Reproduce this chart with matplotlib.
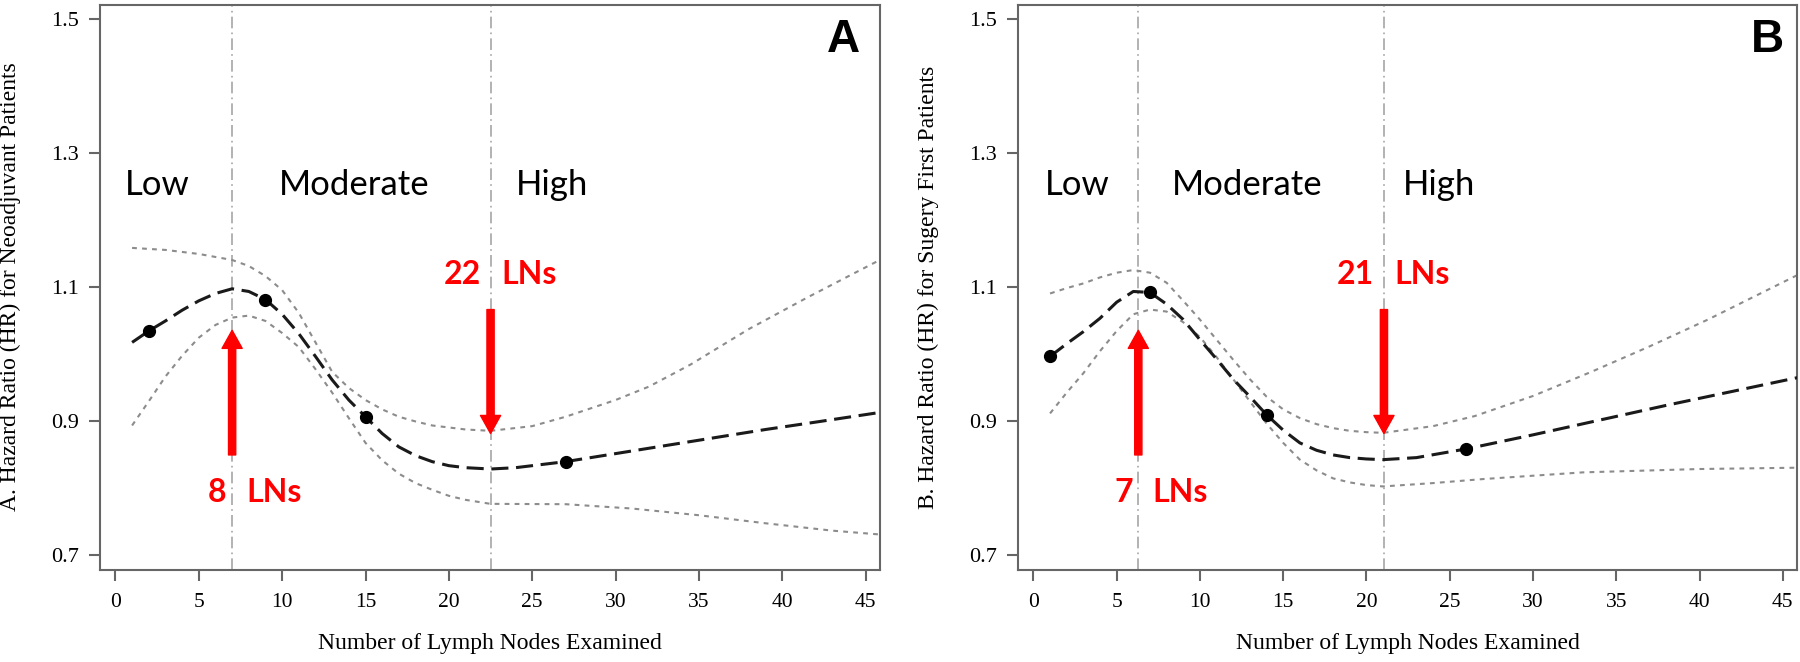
import matplotlib
matplotlib.use("Agg")
import matplotlib.pyplot as plt

plt.rcParams['font.family'] = 'Liberation Serif'

# ---- data ----
# Panel A: neoadjuvant patients
a_fit_x = [1, 2, 3, 4, 5, 6, 7, 8, 9, 10, 11, 12, 13, 14, 15, 16, 17, 18, 19, 20, 21, 22.5, 24, 27, 30, 33, 36, 39, 42, 46]
a_fit_y = [1.018, 1.035, 1.050, 1.066, 1.080, 1.091, 1.098, 1.094, 1.082, 1.060, 1.031, 0.997, 0.962, 0.932, 0.907,
           0.882, 0.862, 0.849, 0.840, 0.834, 0.831, 0.829, 0.831, 0.840, 0.852, 0.864, 0.876, 0.888, 0.899, 0.914]
a_up_x = [1, 3, 5, 7, 8, 9, 10, 11, 12, 13, 14, 15, 16, 17, 18, 19, 21, 22.5, 25, 27, 30, 32, 34.5, 38, 41.5, 46]
a_up_y = [1.159, 1.156, 1.150, 1.141, 1.132, 1.117, 1.096, 1.062, 1.018, 0.974, 0.950, 0.932, 0.918, 0.907, 0.900,
          0.894, 0.888, 0.886, 0.893, 0.907, 0.932, 0.952, 0.985, 1.038, 1.085, 1.143]
a_lo_x = [1, 2, 3, 4, 5, 6, 7, 8, 9, 10, 11, 12, 13, 14, 15, 16, 17, 18, 19, 20, 21, 22.5, 27, 31, 35, 39, 43, 46]
a_lo_y = [0.894, 0.930, 0.967, 0.998, 1.025, 1.044, 1.055, 1.058, 1.050, 1.032, 1.011, 0.978, 0.943, 0.905, 0.868,
          0.842, 0.822, 0.808, 0.798, 0.789, 0.783, 0.777, 0.7765, 0.770, 0.760, 0.748, 0.737, 0.731]
a_knot_x = [2, 9, 15, 27]
a_knot_y = [1.035, 1.082, 0.907, 0.840]
a_cuts = [7, 22.5]
a_cut_labels = ['8', '22']

# Panel B: surgery first patients
b_fit_x = [1, 2, 3, 4, 5, 6, 7, 8, 9, 10, 11, 12, 13, 14, 15, 16, 17, 18, 19, 20, 21, 23, 26, 30, 34, 38, 42, 46]
b_fit_y = [0.997, 1.016, 1.034, 1.054, 1.078, 1.094, 1.0925, 1.075, 1.052, 1.022, 0.993, 0.963, 0.937, 0.910, 0.887,
           0.868, 0.857, 0.850, 0.846, 0.844, 0.843, 0.846, 0.859, 0.880, 0.902, 0.924, 0.945, 0.966]
b_up_x = [1, 2, 3, 4, 5, 6, 7, 8, 9, 10, 11, 12, 13, 14, 15, 16, 17, 18, 19, 20, 21, 24, 26.5, 30, 33.5, 37, 40.5, 46]
b_up_y = [1.091, 1.099, 1.106, 1.115, 1.122, 1.126, 1.122, 1.107, 1.080, 1.052, 1.022, 0.992, 0.963, 0.937, 0.918,
          0.905, 0.896, 0.890, 0.886, 0.884, 0.883, 0.893, 0.908, 0.938, 0.974, 1.012, 1.052, 1.120]
b_lo_x = [1, 2, 3, 4, 5, 6, 7, 8, 9, 10, 11, 12, 13, 14, 15, 16, 17, 18, 19, 20, 21, 24, 27, 33, 40, 46]
b_lo_y = [0.912, 0.943, 0.972, 1.005, 1.035, 1.060, 1.067, 1.064, 1.048, 1.026, 0.996, 0.963, 0.930, 0.897, 0.868,
          0.843, 0.827, 0.815, 0.809, 0.805, 0.803, 0.808, 0.814, 0.824, 0.829, 0.831]
b_knot_x = [1, 7, 14, 26]
b_knot_y = [0.997, 1.0925, 0.910, 0.859]
b_cuts = [6.3, 21.05]
b_cut_labels = ['7', '21']

x_ticks = [0, 5, 10, 15, 20, 25, 30, 35, 40, 45]
y_ticks = [0.7, 0.9, 1.1, 1.3, 1.5]
group_names = ['Low', 'Moderate', 'High']

fig = plt.figure(figsize=(18, 6.62), dpi=100)
ax_a = fig.add_axes([0.0556, 0.1397, 0.4333, 0.8532])
ax_b = fig.add_axes([0.5656, 0.1397, 0.4328, 0.8532])

red = '#ff0000'
frame = '#666666'


def draw_panel(ax, fx, fy, ux, uy, lx, ly, kx, ky, cuts, cut_labels,
               group_x, ylabel, letter, letter_x):
    ax.set_xlim(-0.92, 45.86)
    ax.set_ylim(0.679, 1.522)

    # cut-point lines
    for c in cuts:
        ax.axvline(c, color='#a6a6a6', lw=1.2, linestyle=(0, (7, 2.5, 1, 2.5)), zorder=1)

    # confidence band and fitted curve
    ax.plot(ux, uy, color='#8c8c8c', lw=1.5, linestyle=(0, (2.3, 2.5)), zorder=2)
    ax.plot(lx, ly, color='#8c8c8c', lw=1.5, linestyle=(0, (2.3, 2.5)), zorder=2)
    ax.plot(fx, fy, color='#1a1a1a', lw=2.2, linestyle=(0, (5.6, 2.5)), zorder=3)
    ax.plot(kx, ky, 'o', color='black', ms=8.5, zorder=4)

    # red arrows at the cut points
    arrow = dict(arrowstyle='simple,head_width=1.45,head_length=1.3,tail_width=0.52',
                 color=red, shrinkA=0, shrinkB=0, mutation_scale=10)
    ax.annotate('', xy=(cuts[0], 1.036), xytext=(cuts[0], 0.850), arrowprops=arrow, zorder=5)
    ax.annotate('', xy=(cuts[1], 0.882), xytext=(cuts[1], 1.067), arrowprops=arrow, zorder=5)

    lab = dict(color=red, fontsize=23, fontweight='bold', family='Lato', va='center',
               textcoords='offset points')
    ax.annotate(cut_labels[0], xy=(cuts[0], 0.794), xytext=(-4, 0), ha='right', **lab)
    ax.annotate('LNs', xy=(cuts[0], 0.794), xytext=(10, 0), ha='left', **lab)
    ax.annotate(cut_labels[1], xy=(cuts[1], 1.120), xytext=(-7, 0), ha='right', **lab)
    ax.annotate('LNs', xy=(cuts[1], 1.120), xytext=(7.5, 0), ha='left', **lab)

    for gx, name in zip(group_x, group_names):
        ax.text(gx, 1.253, name, fontsize=25, family='Lato', color='black', ha='left', va='center')

    ax.text(letter_x, 0.916, letter, transform=ax.transAxes, fontsize=33, fontweight='bold',
            family='Liberation Sans', ha='right', va='baseline')

    ax.set_xticks(x_ticks)
    ax.set_yticks(y_ticks)
    ax.set_yticklabels([f'{v:.1f}' for v in y_ticks])
    ax.tick_params(axis='x', length=8, width=1.5, color=frame, pad=9, labelsize=15.5)
    ax.tick_params(axis='y', length=8, width=1.5, color=frame, pad=7, labelsize=16)
    for s in ax.spines.values():
        s.set_color(frame)
        s.set_linewidth(1.5)

    ax.set_xlabel('Number of Lymph Nodes Examined', fontsize=17)
    ax.xaxis.set_label_coords(0.5, -0.112)
    ax.set_ylabel(ylabel, fontsize=17)
    ax.yaxis.set_label_coords(-0.101, 0.5)


draw_panel(ax_a, a_fit_x, a_fit_y, a_up_x, a_up_y, a_lo_x, a_lo_y, a_knot_x, a_knot_y,
           a_cuts, a_cut_labels, [0.55, 9.8, 24.0],
           'A. Hazard Ratio (HR) for Neoadjuvant Patients', 'A', 0.974)
draw_panel(ax_b, b_fit_x, b_fit_y, b_up_x, b_up_y, b_lo_x, b_lo_y, b_knot_x, b_knot_y,
           b_cuts, b_cut_labels, [0.67, 8.3, 22.2],
           'B. Hazard Ratio (HR) for Sugery First Patients', 'B', 0.983)

fig.savefig('out.png', dpi=100)
